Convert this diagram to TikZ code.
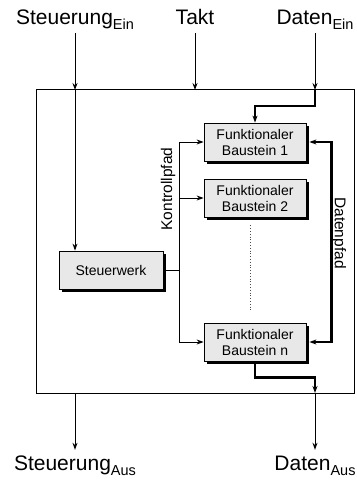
\documentclass[tikz,border=0pt]{standalone}
\usepackage{fontspec}
\setmainfont{Liberation Sans}
\usetikzlibrary{arrows.meta,shadows}
\newcommand{\subtxt}[1]{{\fontsize{14.5}{14.5}\selectfont\raisebox{-5pt}{#1}}}
\begin{document}
\begin{tikzpicture}[x=1pt,y=-1pt,>={Stealth[length=7pt,width=5pt]},
  baustein/.style={draw,fill=gray!18,line width=0.8pt,minimum width=102pt,minimum height=38pt,
    align=center,inner sep=0pt,font=\fontsize{14}{16}\selectfont,
    drop shadow={opacity=1,fill=black,shadow xshift=3.2pt,shadow yshift=-3.2pt}},
  bez/.style={font=\fontsize{21}{23}\selectfont,inner sep=2pt,anchor=base},
  bezoben/.style={bez,text depth=6pt},
  bezunten/.style={bez,text height=18pt},
  pfad/.style={font=\fontsize{15.5}{17}\selectfont,inner sep=0pt},
  duenn/.style={line width=0.9pt},
  dick/.style={line width=2.4pt}]
 \useasboundingbox (0,0) rectangle (356,481);
 % Systemgrenze
 \draw[line width=1pt] (36,90) rectangle (354,393);
 \coordinate (stE) at (75,90);
 \coordinate (tE) at (195,90);
 \coordinate (dE) at (315,90);
 \coordinate (stA) at (75,393);
 \coordinate (dA) at (315,393);
 % Ein- und Ausgaenge
 \node[bezoben] (stEin) at (75,25) {Steuerung\subtxt{Ein}};
 \node[bezoben] (takt) at (195,25) {Takt};
 \node[bezoben] (dEin) at (315,25) {Daten\subtxt{Ein}};
 \node[bezunten] (stAus) at (75,470) {Steuerung\subtxt{Aus}};
 \node[bezunten] (dAus) at (315,470) {Daten\subtxt{Aus}};
 % Bausteine
 \node[baustein,minimum width=104pt] (sw) at (111,270) {Steuerwerk};
 \node[baustein] (b1) at (255,142) {Funktionaler\\Baustein 1};
 \node[baustein] (b2) at (255,198) {Funktionaler\\Baustein 2};
 \node[baustein] (bn) at (255,342) {Funktionaler\\Baustein n};
 \draw[dotted,line width=0.8pt,gray!60!black] ([xshift=-5pt,yshift=-8pt]b2.south) -- ([xshift=-5pt,yshift=11pt]bn.north);
 % Steuerung
 \draw[duenn,->] (stEin) -- (stE);
 \draw[duenn,->] (takt) -- (tE);
 \draw[duenn,->] (dEin) -- (dE);
 \draw[duenn,->] (stE) -- (stE |- sw.north);
 \draw[duenn,->] (stA) -- (stAus);
 \draw[duenn,->] (dA) -- (dAus);
 % Kontrollpfad
 \coordinate (kp) at (179,270);
 \draw[duenn] (sw.east) -- (kp);
 \draw[duenn,->] (kp) |- (b1.west);
 \draw[duenn,->] (kp) |- (b2.west);
 \draw[duenn,->] (kp) |- (bn.west);
 \node[pfad,rotate=90] (kpText) at (168,189) {Kontrollpfad};
 % Datenpfad
 \draw[dick,->] (dE) -- ++(0,16) -| (b1.north);
 \draw[dick,<->] ([xshift=3pt]b1.east) -- ++(22,0) |- ([xshift=3pt]bn.east);
 \draw[dick,->] (bn.south) -- ++(0,16) -| (dA);
 \node[pfad,rotate=-90] (dpText) at (339,233) {Datenpfad};
\end{tikzpicture}
\end{document}
